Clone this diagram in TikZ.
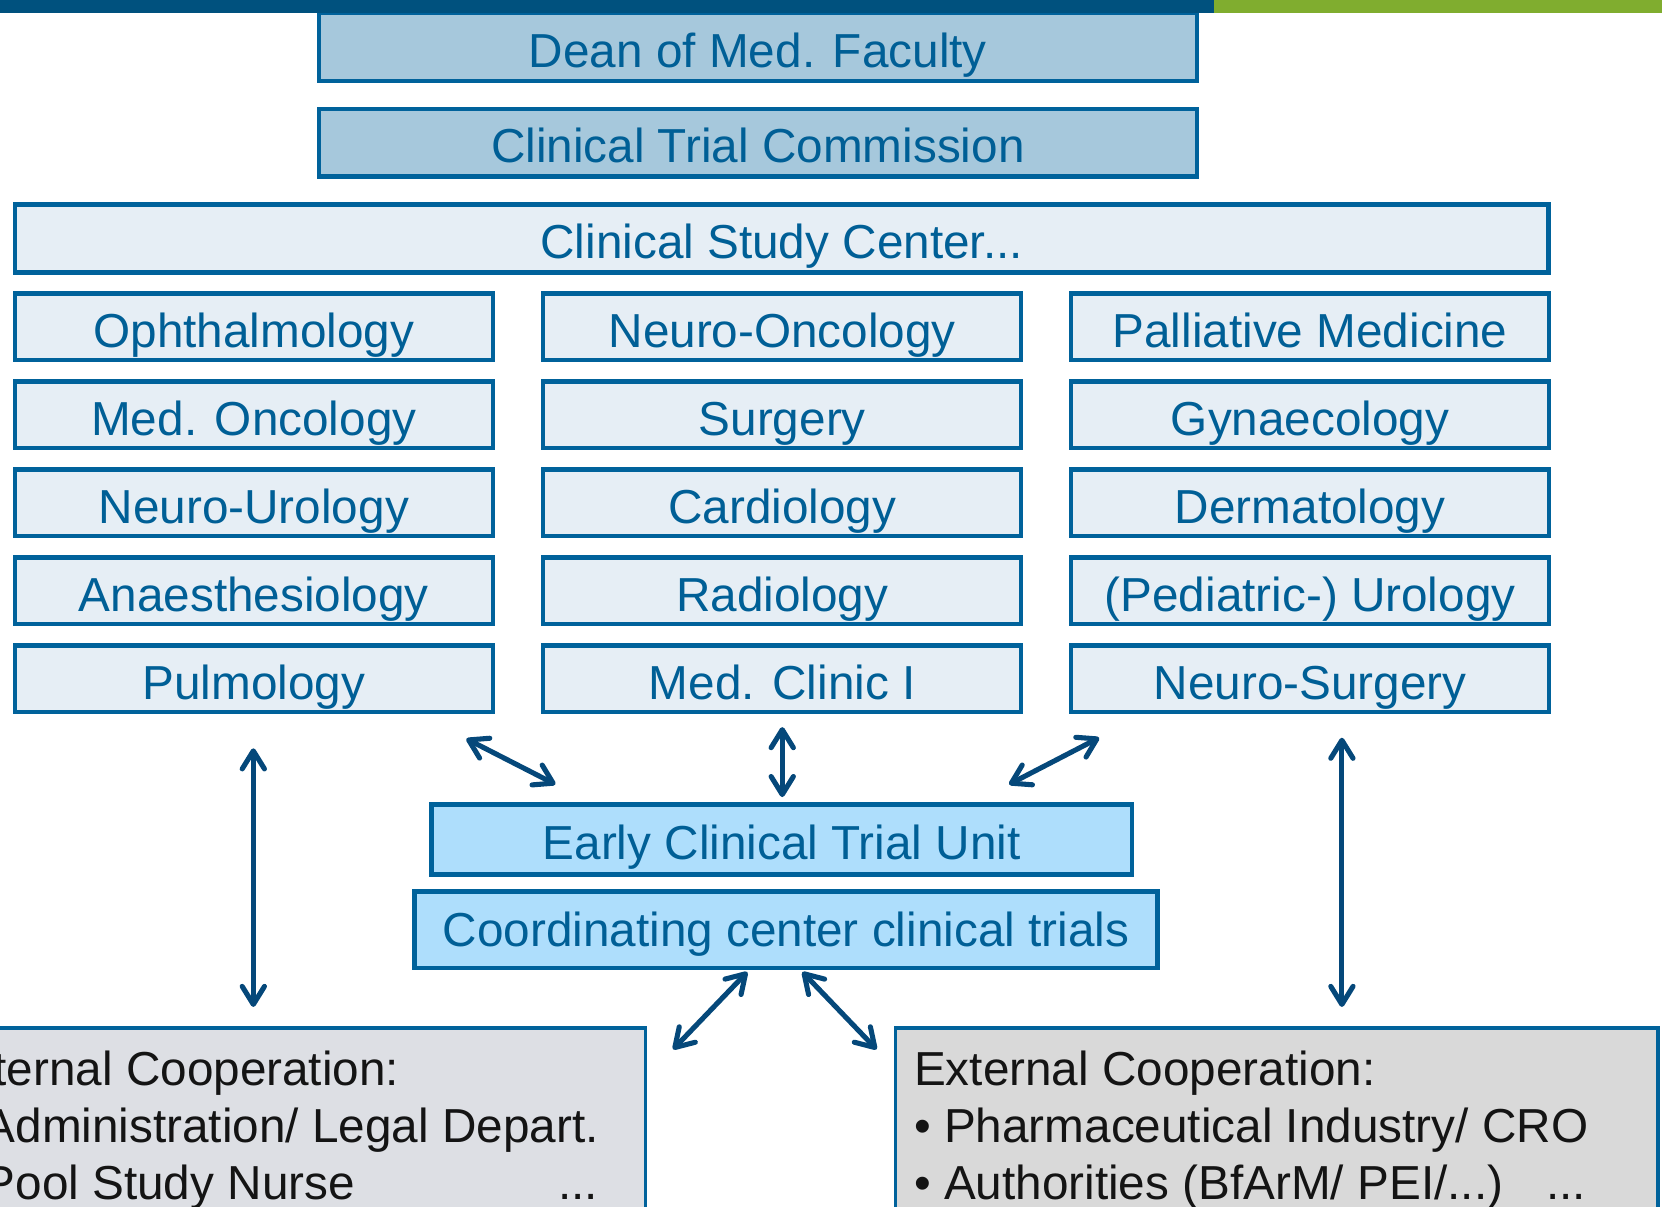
\documentclass[tikz,border=0pt]{standalone}
\usepackage{fontspec}
\setmainfont{Liberation Sans}
\usetikzlibrary{arrows.meta}
\definecolor{barblue}{RGB}{0,81,126}
\definecolor{bargreen}{RGB}{128,173,47}
\definecolor{edge}{RGB}{0,98,155}
\definecolor{txtblue}{RGB}{0,95,150}
\definecolor{deanfill}{RGB}{166,200,220}
\definecolor{deptfill}{RGB}{230,238,245}
\definecolor{unitfill}{RGB}{174,222,252}
\definecolor{grayL}{RGB}{221,223,228}
\definecolor{grayR}{RGB}{217,217,217}
\definecolor{arrowc}{RGB}{5,72,122}
\definecolor{exttext}{RGB}{20,20,20}
\begin{document}
\begin{tikzpicture}[x=0.5pt,y=-0.5pt,
  box/.style={draw=edge, line width=2pt, inner sep=0pt, text=txtblue,
    font=\fontsize{22.5pt}{27pt}\selectfont, text height=19pt, text depth=0pt},
  topbox/.style={box, fill=deanfill, minimum width=414pt, minimum height=32pt},
  dept/.style={box, fill=deptfill, minimum width=225.5pt, minimum height=31.5pt},
  unit/.style={box, fill=unitfill},
  ext/.style={draw=edge, line width=1.6pt, inner sep=0pt},
  exttxt/.style={anchor=base west, inner sep=0pt, text=exttext,
    font=\fontsize{22.5pt}{27pt}\selectfont},
  link/.style={draw=arrowc, line width=2.4pt, line cap=round,
    {Straight Barb[length=8.5pt,width=10.5pt,round]}-{Straight Barb[length=8.5pt,width=10.5pt,round]}}
]
\useasboundingbox (0,0) rectangle (1568,1138);

\node[topbox] (dean) at (715,44.5) {Dean of Med. Faculty};
\node[topbox] (ctc) at (715,134.5) {Clinical Trial Commission};
\node[box, fill=deptfill, minimum width=723.5pt, minimum height=32pt] (csc) at (737.5,225) {Clinical Study Center...};

% departments
\node[dept] (d11) at (239.5,308.5) {Ophthalmology};
\node[dept] (d21) at (239.5,391.5) {Med. Oncology};
\node[dept] (d31) at (239.5,474.5) {Neuro-Urology};
\node[dept] (d41) at (239.5,557.5) {Anaesthesiology};
\node[dept] (d51) at (239.5,640.5) {Pulmology};
\node[dept] (d12) at (738,308.5) {Neuro-Oncology};
\node[dept] (d22) at (738,391.5) {Surgery};
\node[dept] (d32) at (738,474.5) {Cardiology};
\node[dept] (d42) at (738,557.5) {Radiology};
\node[dept] (d52) at (738,640.5) {Med. Clinic I};
\node[dept] (d13) at (1236,308.5) {Palliative Medicine};
\node[dept] (d23) at (1236,391.5) {Gynaecology};
\node[dept] (d33) at (1236,474.5) {Dermatology};
\node[dept] (d43) at (1236,557.5) {(Pediatric-) Urology};
\node[dept] (d53) at (1236,640.5) {Neuro-Surgery};

\node[unit, minimum width=330.5pt, minimum height=33pt] (ectu) at (737.5,792) {Early Clinical Trial Unit};
\node[unit, minimum width=350.5pt, minimum height=36pt, text height=16pt] (ccct) at (741.5,877) {Coordinating center clinical trials};

% external boxes
\node[ext, fill=grayL, minimum width=335.25pt, minimum height=105pt] (extL) at (274,1075) {};
\node[ext, fill=grayR, minimum width=359.75pt, minimum height=105pt] (extR) at (1204.5,1075) {};
\node[exttxt] (extLa) at (-44,1024) {Internal Cooperation:};
\node[exttxt] (extLb) at (-44,1078) {• Administration/ Legal Depart.};
\node[exttxt] (extLc) at (-44,1132) {\makebox[304pt][l]{• Pool Study Nurse\hfill...}};
\node[exttxt] (extRa) at (862,1024) {External Cooperation:};
\node[exttxt] (extRb) at (862,1078) {• Pharmaceutical Industry/ CRO};
\node[exttxt] (extRc) at (862,1132) {\makebox[317pt][l]{• Authorities (BfArM/ PEI/...)\hfill...}};

% top bar
\fill[barblue] (0,0) rectangle (1145,12.5);
\fill[bargreen] (1145,0) rectangle (1568,12.5);

% arrows
\coordinate (a1s) at (239,706);  \coordinate (a1e) at (239,950);
\coordinate (a2s) at (440,697);  \coordinate (a2e) at (524,740);
\coordinate (a3s) at (738,686);  \coordinate (a3e) at (738,752);
\coordinate (a4s) at (1037,696); \coordinate (a4e) at (952,740);
\coordinate (a5s) at (1266,696); \coordinate (a5e) at (1266,950);
\coordinate (a6s) at (705,917);  \coordinate (a6e) at (635,990);
\coordinate (a7s) at (757,917);  \coordinate (a7e) at (827,990);
\draw[link] (a1s) -- (a1e);
\draw[link] (a2s) -- (a2e);
\draw[link] (a3s) -- (a3e);
\draw[link] (a4s) -- (a4e);
\draw[link] (a5s) -- (a5e);
\draw[link] (a6s) -- (a6e);
\draw[link] (a7s) -- (a7e);
\end{tikzpicture}
\end{document}
